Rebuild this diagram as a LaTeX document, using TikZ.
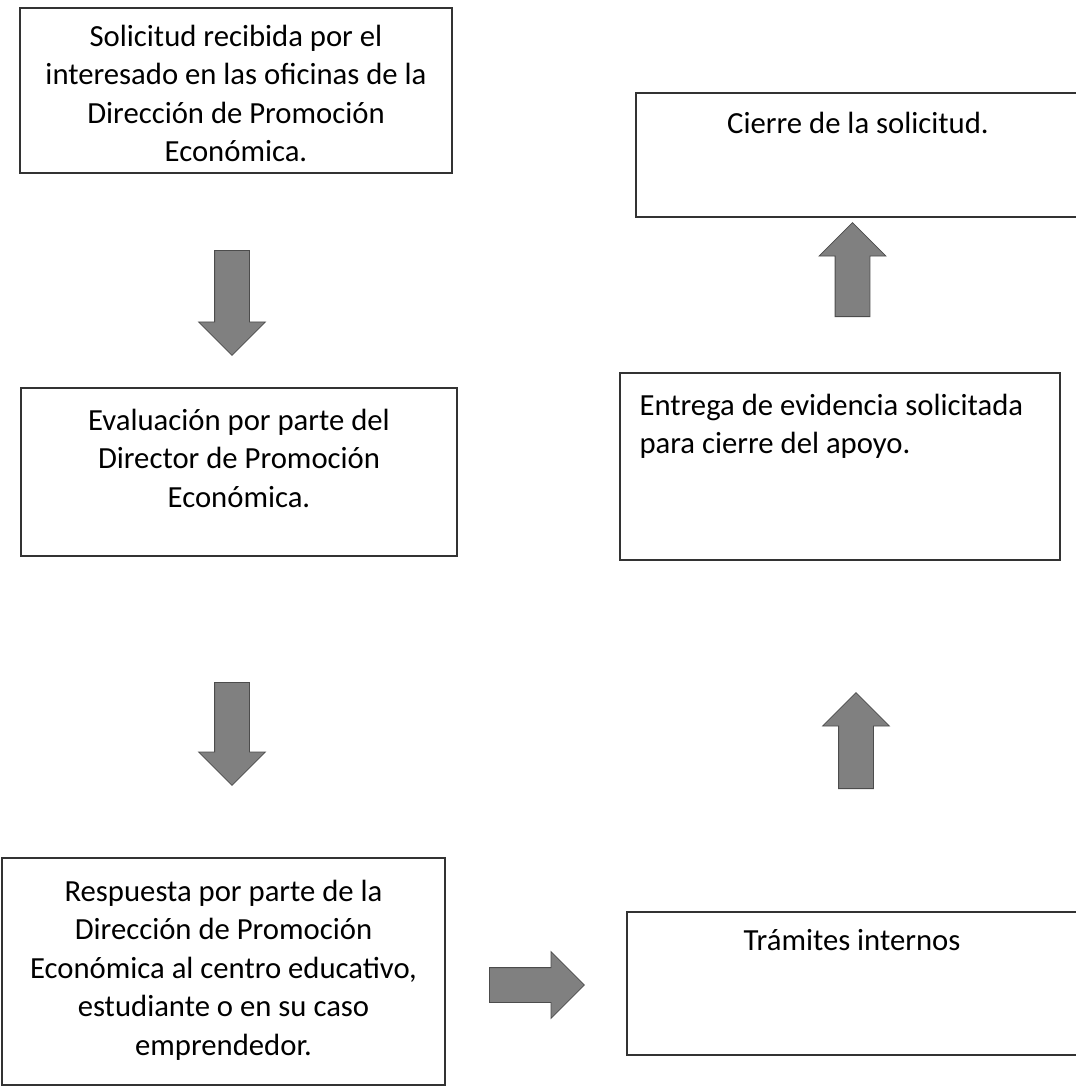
\documentclass[tikz,border=0pt]{standalone}
\usepackage{fontspec}
\setmainfont{Carlito}
\usetikzlibrary{shapes.arrows, positioning}

\tikzstyle{box} = [rectangle, draw=black!80, line width=1.3pt, inner sep=0pt]
\tikzstyle{boxtext} = [inner sep=0pt, align=center, font=\fontsize{30.7}{38.5}\selectfont]
\tikzstyle{blockarrow} = [single arrow, draw=black!70, fill=black!50, line width=0.8pt, inner xsep=0pt, inner ysep=17pt, single arrow head extend=16pt, single arrow head indent=0pt, anchor=tail]

\begin{document}
\begin{tikzpicture}[x=1pt, y=1pt]
\useasboundingbox (0,0) rectangle (1075,-1091);
%
% Boxes
%
\node (solicitud) [box, minimum width=432pt, minimum height=165pt] at (236,-90.5) {};
\node (evaluacion) [box, minimum width=436pt, minimum height=168pt] at (239,-472) {};
\node (respuesta) [box, minimum width=443pt, minimum height=227pt] at (223.5,-971.5) {};
\node (tramites) [box, minimum width=450pt, minimum height=143pt] at (852,-983.5) {};
\node (entrega) [box, minimum width=440pt, minimum height=187pt] at (840,-466.5) {};
\node (cierre) [box, minimum width=444pt, minimum height=124pt] at (858,-155) {};
%
% Texts
%
\node (t_solicitud) [boxtext, below=17.5pt of solicitud.north] {Solicitud recibida por el\\interesado en las oficinas de la\\Dirección de Promoción\\Económica.};
\node (t_evaluacion) [boxtext, below=21.5pt of evaluacion.north] {Evaluación por parte del\\Director de Promoción\\Económica.};
\node (t_respuesta) [boxtext, below=22.5pt of respuesta.north] {Respuesta por parte de la\\Dirección de Promoción\\Económica al centro educativo,\\estudiante o en su caso\\emprendedor.};
\node (t_tramites) [boxtext, below=17.5pt of tramites.north] {Trámites internos};
\node (t_entrega) [boxtext, align=left, below right=21.5pt and 20pt of entrega.north west] {Entrega de evidencia solicitada\\para cierre del apoyo.};
\node (t_cierre) [boxtext, below=19.5pt of cierre.north] {Cierre de la solicitud.};
%
% Block arrows
%
\node (down1) [blockarrow, minimum height=105pt, rotate=-90] at (232,-250) {};
\node (down2) [blockarrow, minimum height=103pt, rotate=-90] at (232,-682) {};
\node (right1) [blockarrow, minimum height=95pt] at (489,-985) {};
\node (up2) [blockarrow, minimum height=96pt, rotate=90] at (856,-789) {};
\node (up1) [blockarrow, minimum height=94pt, rotate=90] at (852.5,-317) {};
\end{tikzpicture}
\end{document}
